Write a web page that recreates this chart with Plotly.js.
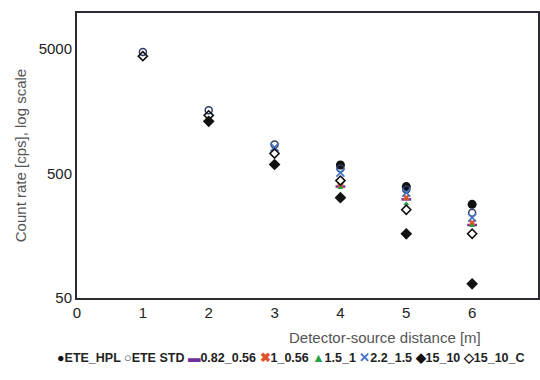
<!DOCTYPE html>
<html>
<head>
<meta charset="utf-8">
<script src="https://cdn.plot.ly/plotly-3.0.1.min.js"></script>
<style>html,body{margin:0;padding:0;background:#fff;}#chart{width:540px;height:380px;}</style>
</head>
<body>
<div id="chart"></div>
<script>
var distances = [1, 2, 3, 4, 5, 6];
var seriesNames = ["ETE_HPL", "ETE STD", "0.82_0.56", "1_0.56", "1.5_1", "2.2_1.5", "15_10", "15_10_C"];
var eteHPL   = [null, null, null, 586, 393, 283];
var eteSTD   = [4730, 1611, 857, 549, 372, 242];
var s082_056 = [null, null, null, 393, 310, 193];
var s1_056   = [null, null, null, 400, 320, 201];
var s15_1    = [null, null, null, 385, 286, 190];
var s22_15   = [null, null, 811, 509, 351, 221];
var s15_10   = [null, 1313, 591, 320, 164, 65];
var s15_10C  = [4390, 1468, 725, 439, 256, 164];
var yTicks = [50, 500, 5000];
var xTicks = [0, 1, 2, 3, 4, 5, 6, 7];

var seriesValues = [eteHPL, eteSTD, s082_056, s1_056, s15_1, s22_15, s15_10, s15_10C];
var styles = [
  {symbol: "circle", color: "#111111", size: 9, lw: 0, glyph: "\u25CF"},
  {symbol: "circle-open", color: "#2d3c62", size: 7, lw: 1.5, glyph: "\u25CB"},
  {symbol: "line-ew-open", color: "#6b2f9e", size: 7, lw: 2.5, glyph: "\u25AC"},
  {symbol: "x", color: "#e0522a", size: 6, lw: 0, glyph: "\u2716"},
  {symbol: "triangle-up", color: "#25a045", size: 5, lw: 0, glyph: "\u25B2"},
  {symbol: "x-thin-open", color: "#4472c4", size: 8, lw: 1.6, glyph: "\u2715"},
  {symbol: "diamond", color: "#111111", size: 9, lw: 0, glyph: "\u25C6"},
  {symbol: "diamond-open", color: "#111111", size: 7, lw: 1.6, glyph: "\u25C7"}
];

var traces = seriesNames.map(function (name, i) {
  var st = styles[i];
  return {
    x: distances, y: seriesValues[i], name: name, type: "scatter", mode: "markers",
    showlegend: false,
    marker: {symbol: st.symbol, color: st.color, size: st.size,
             line: {color: st.color, width: st.lw}}
  };
});

var legendText = seriesNames.map(function (name, i) {
  return '<span style="color:' + styles[i].color + '">' + styles[i].glyph + '</span>' + name;
}).join(" ");

var layout = {
  width: 540, height: 380,
  margin: {l: 77, r: 2, t: 13, b: 82},
  paper_bgcolor: "#ffffff", plot_bgcolor: "#ffffff",
  font: {family: "Liberation Sans, Arial, sans-serif", color: "#222"},
  xaxis: {
    range: [0, 7], tickvals: xTicks, ticks: "", showgrid: false, zeroline: false,
    showline: true, linecolor: "#2b2b33", linewidth: 2, mirror: true,
    tickfont: {size: 15, color: "#222"}
  },
  yaxis: {
    type: "log", range: [Math.log10(50), 3.989], tickvals: yTicks, ticktext: yTicks.map(String),
    ticks: "", showgrid: false, zeroline: false,
    showline: true, linecolor: "#2b2b33", linewidth: 2, mirror: true,
    tickfont: {size: 15, color: "#222"},
    title: {text: "Count rate [cps], log scale", font: {size: 15, color: "#555"}, standoff: 8}
  },
  annotations: [
    {xref: "paper", yref: "paper", x: 0.668, y: -0.14, xanchor: "center", yanchor: "middle",
     text: "Detector-source distance [m]", showarrow: false, font: {size: 15, color: "#555"}},
    {xref: "paper", yref: "paper", x: (291 - 77) / 461, y: -0.21, xanchor: "center", yanchor: "middle",
     text: "<b>" + legendText + "</b>", showarrow: false, font: {size: 12.5, color: "#222"}}
  ]
};

Plotly.newPlot("chart", traces, layout, {displayModeBar: false, staticPlot: true});
</script>
</body>
</html>
